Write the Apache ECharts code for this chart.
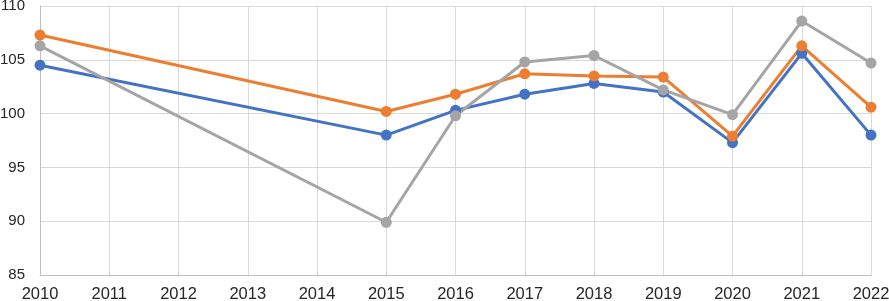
<!DOCTYPE html>
<html>
<head>
<meta charset="utf-8">
<script src="https://cdn.jsdelivr.net/npm/echarts@6/dist/echarts.min.js"></script>
<style>
  html, body { margin: 0; padding: 0; background: #fff; }
  #chart { width: 889px; height: 301px; }
</style>
</head>
<body>
<div id="chart"></div>
<script>
var years = ["2010", "2011", "2012", "2013", "2014", "2015", "2016", "2017", "2018", "2019", "2020", "2021", "2022"];
var blue = [104.5, null, null, null, null, 98.0, 100.3, 101.8, 102.8, 102.0, 97.3, 105.6, 98.0];
var orange = [107.3, null, null, null, null, 100.2, 101.8, 103.7, 103.5, 103.4, 97.9, 106.3, 100.6];
var gray = [106.3, null, null, null, null, 89.9, 99.8, 104.8, 105.4, 102.2, 99.9, 108.6, 104.7];

var chart = echarts.init(document.getElementById("chart"));
var font = {fontFamily: "Liberation Sans, Arial, sans-serif", color: "#262626"};
var line = function(data, color) {
    return {type: "line", data: data, connectNulls: true, symbol: "circle", symbolSize: 11,
        itemStyle: {color: color}, lineStyle: {color: color, width: 3}, z: 3};
};
chart.setOption({
    animation: false,
    grid: {left: 40, right: 18, top: 6, bottom: 26, outerBoundsMode: "none", containLabel: false},
    xAxis: {type: "category", data: years, boundaryGap: false,
        axisLine: {lineStyle: {color: "#bfbfbf", width: 1}}, axisTick: {show: false},
        axisLabel: Object.assign({margin: 11, interval: 0, fontSize: 16.5}, font),
        splitLine: {show: true, lineStyle: {color: "#d9d9d9", width: 1}}},
    yAxis: {type: "value", min: 85, max: 110, interval: 5,
        axisLine: {show: true, lineStyle: {color: "#bfbfbf", width: 1}}, axisTick: {show: false},
        axisLabel: Object.assign({margin: 15, fontSize: 15}, font),
        splitLine: {lineStyle: {color: "#d9d9d9", width: 1}}},
    series: [line(blue, "#4472C4"), line(orange, "#ED7D31"), line(gray, "#A5A5A5")]
});
</script>
</body>
</html>
